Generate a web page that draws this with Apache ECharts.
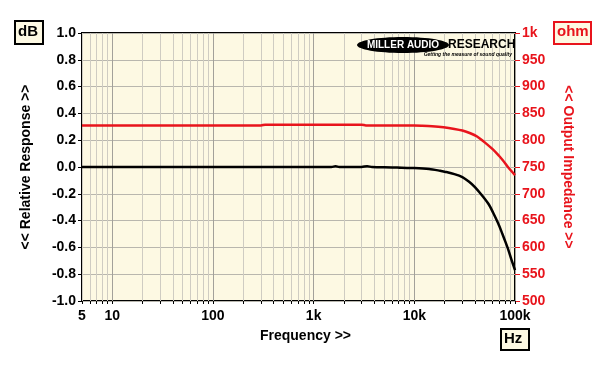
<!DOCTYPE html>
<html>
<head>
<meta charset="utf-8">
<script src="https://cdn.jsdelivr.net/npm/echarts@6/dist/echarts.min.js"></script>
<style>
html,body{margin:0;padding:0;background:#ffffff;}
#c{width:600px;height:368px;}
</style>
</head>
<body>
<div id="c"></div>
<script>
// ---- data ----
var respFreq = [5, 10, 100, 1000, 1500, 1650, 1800, 3000, 3400, 3800, 6000, 7500, 10000, 14000, 18000, 20000, 25000, 30000, 35000, 40000, 48000, 55000, 61000, 68000, 75000, 80000, 86000, 92000, 100000];
var respDb   = [0, 0, 0, 0, 0, 0.006, 0, 0, 0.006, 0, -0.003, -0.006, -0.008, -0.015, -0.028, -0.035, -0.053, -0.075, -0.11, -0.15, -0.22, -0.28, -0.345, -0.42, -0.5, -0.555, -0.62, -0.69, -0.77];

var impFreq = [5, 100, 300, 330, 3000, 3300, 10000, 12000, 15000, 19500, 25000, 30000, 36000, 42000, 50000, 61000, 70000, 76000, 85000, 100000];
var impOhm  = [827.5, 827.5, 827.5, 829, 829, 827.5, 827.5, 827, 826, 824, 821, 818, 813, 807, 796, 782, 770, 762, 750, 735];

var xTickFreqs = [5, 6, 7, 8, 9, 10, 20, 30, 40, 50, 60, 70, 80, 90, 100, 200, 300, 400, 500, 600, 700, 800, 900,
  1000, 2000, 3000, 4000, 5000, 6000, 7000, 8000, 9000, 10000, 20000, 30000, 40000, 50000, 60000, 70000, 80000, 90000, 100000];
var xLabelFreqs = [5, 10, 100, 1000, 10000, 100000];
var xLabelTexts = ['5', '10', '100', '1k', '10k', '100k'];

var dbMin = -1.0, dbMax = 1.0, dbStep = 0.2;
var ohmMin = 500, ohmMax = 1000, ohmStep = 50;

// ---- chart ----
var FONT = '"Liberation Sans", Arial, sans-serif';
var RED = '#e8141c';
var chart = echarts.init(document.getElementById('c'), null, {renderer: 'canvas'});

function lg(f) { return Math.log10(f); }
var respData = respFreq.map(function (f, i) { return [lg(f), respDb[i]]; });
var impData = impFreq.map(function (f, i) { return [lg(f), impOhm[i]]; });
var xTicks = xTickFreqs.map(lg);
var xLabels = xLabelFreqs.map(lg);

var minorC = '#cfccc2', decadeC = '#a3a19a';
var splitColors = [minorC, minorC, minorC, minorC, minorC, decadeC, minorC, minorC, minorC];

var option = {
  backgroundColor: '#ffffff',
  animation: false,
  grid: {
    left: 82, right: 85, top: 33, bottom: 67,
    show: true, backgroundColor: '#fdf9e3', borderColor: '#000', borderWidth: 2
  },
  xAxis: {
    type: 'value',
    min: lg(5), max: lg(100000),
    axisLine: {show: false, onZero: false},
    axisTick: {show: true, customValues: xTicks, length: 3, inside: false, lineStyle: {color: '#000', width: 1}},
    axisLabel: {
      customValues: xLabels, margin: 8,
      fontFamily: FONT, fontWeight: 'bold', fontSize: 14, color: '#000',
      formatter: function (v) {
        var best = 0;
        for (var i = 0; i < xLabels.length; i++) { if (Math.abs(xLabels[i] - v) < Math.abs(xLabels[best] - v)) best = i; }
        return xLabelTexts[best];
      }
    },
    splitLine: {show: true, lineStyle: {color: splitColors, width: 1}},
    name: 'Frequency >>', nameLocation: 'middle', nameGap: 28,
    nameTextStyle: {fontFamily: FONT, fontWeight: 'bold', fontSize: 14, color: '#000', padding: [0, 0, 0, 14]}
  },
  yAxis: [{
    type: 'value', min: dbMin, max: dbMax, interval: dbStep, position: 'left',
    axisLine: {show: false},
    axisTick: {show: true, length: 4, lineStyle: {color: '#000', width: 1}},
    axisLabel: {margin: 6, fontFamily: FONT, fontWeight: 'bold', fontSize: 14, color: '#000',
      formatter: function (v) { return v.toFixed(1); }},
    splitLine: {show: true, lineStyle: {color: '#b9b7ae', width: 1}},
    name: '<< Relative Response >>', nameLocation: 'middle', nameGap: 49,
    nameTextStyle: {fontFamily: FONT, fontWeight: 'bold', fontSize: 14, color: '#000'}
  }, {
    type: 'value', min: ohmMin, max: ohmMax, interval: ohmStep, position: 'right',
    axisLine: {show: false},
    axisTick: {show: true, length: 5, lineStyle: {color: RED, width: 1}},
    axisLabel: {margin: 7, fontFamily: FONT, fontWeight: 'bold', fontSize: 14, color: RED,
      formatter: function (v) { return v === 1000 ? '1k' : String(v); }},
    splitLine: {show: false},
    name: '<< Output Impedance >>', nameLocation: 'middle', nameGap: 46, nameRotate: -90,
    nameTextStyle: {fontFamily: FONT, fontWeight: 'bold', fontSize: 14, color: RED}
  }],
  series: [{
    name: 'Output Impedance', type: 'line', yAxisIndex: 1, data: impData,
    showSymbol: false, smooth: 0.3, lineStyle: {color: RED, width: 2.5}, z: 3
  }, {
    name: 'Relative Response', type: 'line', yAxisIndex: 0, data: respData,
    showSymbol: false, smooth: 0.3, lineStyle: {color: '#000', width: 2.5}, z: 4
  }],
  graphic: [
    // dB box
    {type: 'rect', left: 14, top: 20, shape: {width: 28, height: 23}, style: {fill: '#fdf9e3', stroke: '#000', lineWidth: 2}},
    {type: 'text', left: 18, top: 24, style: {text: 'dB', font: 'bold 15px ' + FONT, fill: '#000'}},
    // ohm box
    {type: 'rect', left: 553, top: 21, shape: {width: 37, height: 22}, style: {fill: '#fdf9e3', stroke: RED, lineWidth: 2}},
    {type: 'text', left: 557, top: 24, style: {text: 'ohm', font: 'bold 15px ' + FONT, fill: RED}},
    // Hz box
    {type: 'rect', left: 500, top: 328, shape: {width: 28, height: 21}, style: {fill: '#fdf9e3', stroke: '#000', lineWidth: 2}},
    {type: 'text', left: 504, top: 331, style: {text: 'Hz', font: 'bold 15px ' + FONT, fill: '#000'}},
    // logo
    {type: 'ellipse', shape: {cx: 403, cy: 45, rx: 46, ry: 8}, style: {fill: '#000'}, z: 10},
    {type: 'text', x: 403, y: 45, style: {text: 'MILLER AUDIO', font: 'bold 10px ' + FONT, fill: '#fff', align: 'center', verticalAlign: 'middle'}, z: 11},
    {type: 'text', x: 448, y: 45, style: {text: 'RESEARCH', font: 'bold 12px ' + FONT, fill: '#000', align: 'left', verticalAlign: 'middle'}, z: 11},
    {type: 'text', x: 512, y: 55, style: {text: 'Getting the measure of sound quality', font: 'italic bold 5px ' + FONT, fill: '#000', align: 'right', verticalAlign: 'middle'}, z: 11}
  ]
};
chart.setOption(option);
</script>
</body>
</html>
